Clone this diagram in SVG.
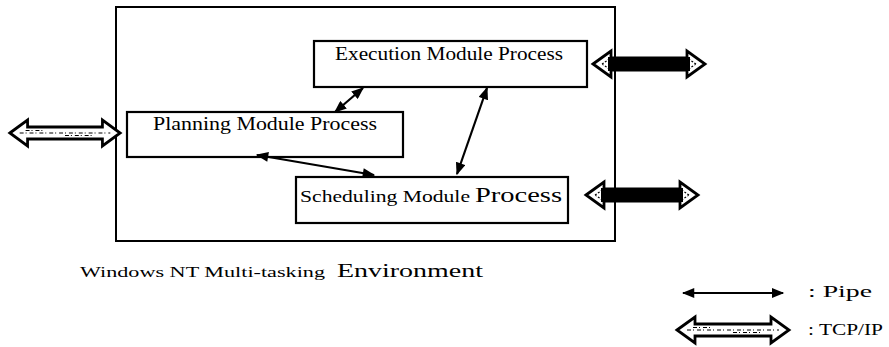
<svg xmlns="http://www.w3.org/2000/svg" width="889" height="347" viewBox="0 0 889 347">
  <style>
    .box { fill: #fff; stroke: #000; stroke-width: 2.2; }
    .frame { fill: none; stroke: #000; stroke-width: 2; }
    .pipe { stroke: #000; stroke-width: 2.2; fill: none; marker-start: url(#head); marker-end: url(#head); }
    .lbl { font-family: "Liberation Serif", "Times New Roman", serif; fill: #000; }
    .tcp { fill: #fff; stroke: #000; stroke-width: 2.8; stroke-linejoin: miter; }
    .hatch { stroke: #000; stroke-width: 1.2; stroke-dasharray: 4 2 1 3; fill: none; }
  </style>
  <defs>
    <marker id="head" viewBox="0 0 10 8" refX="9" refY="4" markerWidth="13" markerHeight="10" markerUnits="userSpaceOnUse" orient="auto-start-reverse">
      <path d="M0,0 L10,4 L0,8 Z" fill="#000"/>
    </marker>
    <!-- double-headed wide arrow, centred on the origin -->
    <path id="wide" d="M-56,0 L-38,-13 L-38,-6 L38,-6 L38,-13 L56,0 L38,13 L38,6 L-38,6 L-38,13 Z"/>
    <g id="tcpOpen">
      <use href="#wide" class="tcp"/>
      <path class="hatch" d="M-46,0 H46 M-40,-2.5 H-20 M0,2.5 H30"/>
    </g>
    <g id="tcpDark">
      <use href="#wide" class="tcp"/>
      <rect x="-41" y="-7" width="82" height="14" fill="#000"/>
      <path d="M-47,0 L-38,-6 M-47,0 L-38,6 M47,0 L38,-6 M47,0 L38,6" stroke="#000" stroke-width="1.2" stroke-dasharray="2 1.5"/>
    </g>
  </defs>

  <!-- environment frame -->
  <g id="environment">
    <rect class="frame" x="116" y="7" width="499" height="234"/>
    <text class="lbl" x="80" y="277" font-size="14" textLength="245" lengthAdjust="spacingAndGlyphs">Windows NT Multi-tasking</text>
    <text class="lbl" x="337" y="277" font-size="19" textLength="146" lengthAdjust="spacingAndGlyphs">Environment</text>
  </g>

  <!-- process modules -->
  <g id="execution">
    <rect class="box" x="314" y="41" width="273" height="46"/>
    <text class="lbl" x="335" y="60" font-size="19" textLength="228" lengthAdjust="spacingAndGlyphs">Execution Module Process</text>
  </g>
  <g id="planning">
    <rect class="box" x="127" y="112" width="276" height="45"/>
    <text class="lbl" x="153" y="130" font-size="19" textLength="224" lengthAdjust="spacingAndGlyphs">Planning Module Process</text>
  </g>
  <g id="scheduling">
    <rect class="box" x="296" y="177" width="272" height="46"/>
    <text class="lbl" x="300" y="202" font-size="17" textLength="170" lengthAdjust="spacingAndGlyphs">Scheduling Module</text>
    <text class="lbl" x="475" y="202" font-size="22" textLength="87" lengthAdjust="spacingAndGlyphs">Process</text>
  </g>

  <!-- pipes and TCP/IP links -->
  <g id="connectors">
    <line class="pipe" x1="363" y1="88" x2="335" y2="112"/>
    <line class="pipe" x1="487" y1="88" x2="457" y2="174"/>
    <line class="pipe" x1="257" y1="155" x2="374" y2="175"/>
    <use href="#tcpOpen" transform="translate(65,133) scale(0.985,1)"/>
    <use href="#tcpDark" transform="translate(649,64)"/>
    <use href="#tcpDark" transform="translate(642,195)"/>
  </g>

  <!-- legend -->
  <g id="legend">
    <line class="pipe" x1="683" y1="293" x2="783" y2="293"/>
    <text class="lbl" x="808" y="297" font-size="16" textLength="64" lengthAdjust="spacingAndGlyphs">: Pipe</text>
    <use href="#tcpOpen" transform="translate(733,330)"/>
    <text class="lbl" x="808" y="335" font-size="16" textLength="75" lengthAdjust="spacingAndGlyphs">: TCP/IP</text>
  </g>
</svg>
